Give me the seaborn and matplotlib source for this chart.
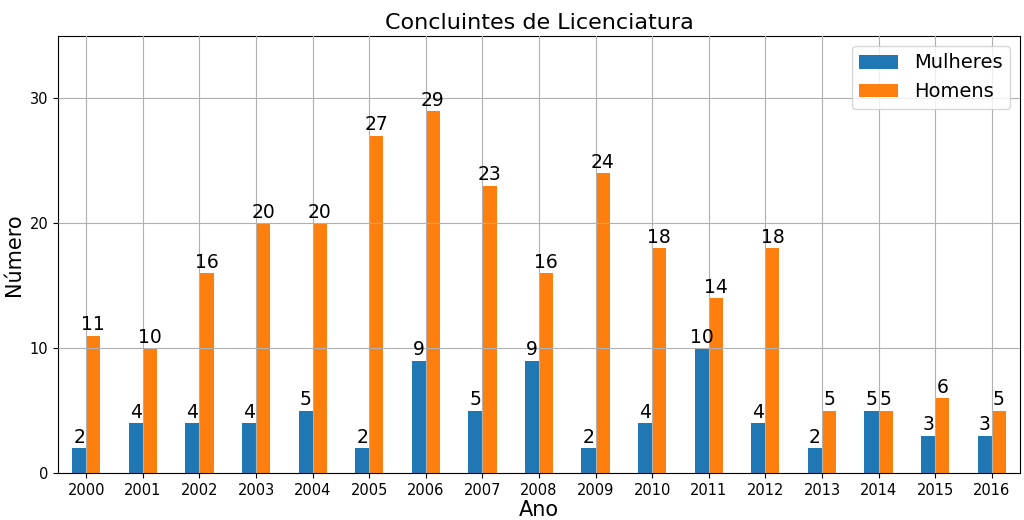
import matplotlib
matplotlib.use("Agg")
import matplotlib.pyplot as plt
import seaborn as sns
import pandas as pd

anos = [str(a) for a in range(2000, 2017)]
mulheres = [2, 4, 4, 4, 5, 2, 9, 5, 9, 2, 4, 10, 4, 2, 5, 3, 3]
homens = [11, 10, 16, 20, 20, 27, 29, 23, 16, 24, 18, 14, 18, 5, 5, 6, 5]
series = ["Mulheres", "Homens"]
cores = ["#1f77b4", "#ff7f0e"]

df = pd.DataFrame({
    "Ano": anos * 2,
    "Número": mulheres + homens,
    "Sexo": [series[0]] * len(anos) + [series[1]] * len(anos),
})

plt.rcParams["font.family"] = ["DejaVu Sans"]
fig, ax = plt.subplots(figsize=(10.24, 5.2), dpi=100)
fig.subplots_adjust(left=58 / 1024, right=1020 / 1024, top=1 - 36 / 520, bottom=1 - 473 / 520)

sns.barplot(data=df, x="Ano", y="Número", hue="Sexo", order=anos,
            hue_order=series, palette=cores, saturation=1, width=0.5,
            linewidth=0, ax=ax, errorbar=None)

for c in ax.containers:
    ax.bar_label(c, fontsize=13.5, padding=1)

ax.set_xlim(-0.5, 16.5)
ax.set_ylim(0, 35)
ax.set_yticks([0, 10, 20, 30])
ax.grid(True, color="#b0b0b0", linewidth=0.8)
ax.set_axisbelow(False)
for b in ax.patches:
    b.set_zorder(1)
ax.tick_params(labelsize=10.5)
ax.set_xlabel("Ano", fontsize=15, labelpad=1.5)
ax.set_ylabel("Número", fontsize=15)
ax.set_title("Concluintes de Licenciatura", fontsize=16, pad=5)
ax.legend(fontsize=14, loc="upper right")
for s in ax.spines.values():
    s.set_color("black")

fig.savefig("out.png", dpi=100)
